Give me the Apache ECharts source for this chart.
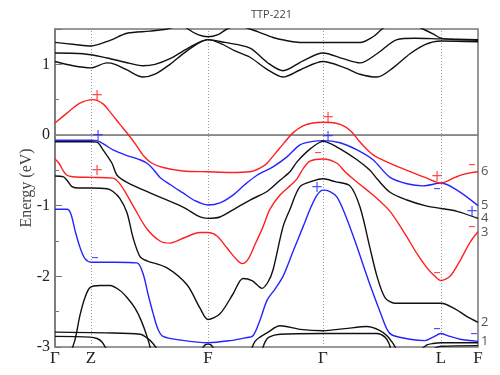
<!DOCTYPE html>
<html>
<head>
<meta charset="utf-8">
<script src="https://cdn.jsdelivr.net/npm/echarts@6/dist/echarts.min.js"></script>
<style>
  html, body { margin: 0; padding: 0; background: #fff; }
  #main { width: 500px; height: 375px; }
</style>
</head>
<body>
<div id="main"></div>
<script>
// k-path positions of the high-symmetry points and their labels
const kPoints = [0, 36, 153, 268, 386, 423]
const kLabels = ['Γ', 'Z', 'F', 'Γ', 'L', 'F']

// conduction bands [k, E]
const cond1 = [[0,1.04],[18,0.98],[36,0.95],[52,1.02],[60,1.0],[72,0.92],[88,0.82],[100,0.86],[115,1.0],[130,1.17],[145,1.31],[153,1.35],[165,1.30],[180,1.19],[195,1.10],[212,0.93],[228,0.82],[245,0.92],[268,1.04],[290,0.95],[305,0.86],[322,0.82],[338,0.95],[355,1.15],[370,1.28],[386,1.33],[423,1.32]]
const cond2 = [[0,1.16],[28,1.15],[52,1.09],[70,1.03],[88,0.98],[100,1.0],[115,1.08],[132,1.22],[153,1.35],[170,1.31],[195,1.23],[212,1.03],[228,0.91],[248,1.05],[268,1.16],[288,1.08],[305,1.02],[322,1.15],[342,1.35],[360,1.37],[386,1.36],[423,1.35]]
const cond3 = [[0,1.31],[20,1.28],[36,1.26],[55,1.34],[72,1.44],[95,1.47],[112,1.50],[125,1.56]]
const cond4 = [[120,1.65],[133,1.50],[143,1.42],[153,1.39],[163,1.42],[172,1.50],[182,1.55],[195,1.50],[205,1.45],[218,1.38],[230,1.34],[245,1.31],[268,1.31],[305,1.31],[318,1.39],[327,1.50],[335,1.58]]
const cond5 = [[350,1.62],[368,1.50],[378,1.43],[386,1.37],[400,1.35],[423,1.34]]

// valence bands, numbered as on the right edge
const band6 = [[0,0.17],[12,0.31],[25,0.45],[38,0.50],[48,0.44],[56,0.31],[65,0.15],[73,0.01],[81,-0.14],[89,-0.30],[97,-0.40],[108,-0.46],[128,-0.51],[153,-0.52],[175,-0.53],[195,-0.52],[205,-0.47],[212,-0.40],[225,-0.18],[238,0.03],[248,0.13],[258,0.17],[268,0.18],[280,0.17],[290,0.12],[297,0.04],[305,-0.10],[313,-0.22],[320,-0.30],[335,-0.40],[352,-0.50],[370,-0.60],[386,-0.68],[400,-0.60],[410,-0.55],[423,-0.52]]
const band5 = [[0,-0.075],[36,-0.075],[42,-0.08],[50,-0.14],[58,-0.21],[70,-0.28],[85,-0.35],[92,-0.40],[98,-0.48],[105,-0.60],[115,-0.70],[128,-0.82],[140,-0.93],[153,-0.99],[165,-0.96],[178,-0.85],[190,-0.70],[202,-0.57],[218,-0.45],[232,-0.31],[245,-0.14],[258,-0.09],[268,-0.08],[285,-0.11],[302,-0.21],[318,-0.35],[335,-0.60],[352,-0.69],[368,-0.72],[386,-0.68],[402,-0.78],[423,-1.0]]
const band4 = [[0,-0.095],[36,-0.095],[42,-0.10],[48,-0.21],[57,-0.40],[62,-0.57],[72,-0.67],[95,-0.82],[128,-1.02],[145,-1.16],[153,-1.18],[165,-1.16],[178,-1.06],[195,-0.92],[212,-0.80],[225,-0.64],[235,-0.52],[242,-0.38],[255,-0.20],[268,-0.09],[282,-0.17],[302,-0.35],[315,-0.50],[322,-0.62],[335,-0.81],[352,-0.92],[370,-1.00],[386,-1.04],[402,-1.08],[423,-1.18]]
const band3 = [[0,-0.34],[4,-0.40],[8,-0.50],[12,-0.57],[18,-0.59],[36,-0.60],[58,-0.61],[63,-0.66],[70,-0.80],[80,-1.05],[92,-1.33],[105,-1.50],[115,-1.53],[130,-1.45],[145,-1.38],[153,-1.38],[162,-1.43],[172,-1.60],[182,-1.77],[187,-1.82],[193,-1.76],[200,-1.55],[208,-1.30],[215,-1.05],[225,-0.85],[235,-0.72],[242,-0.62],[248,-0.48],[255,-0.37],[268,-0.34],[282,-0.40],[290,-0.52],[298,-0.62],[305,-0.70],[318,-0.85],[335,-1.08],[350,-1.40],[362,-1.68],[372,-1.88],[380,-2.0],[386,-2.06],[395,-2.0],[405,-1.78],[415,-1.52],[423,-1.37]]
const band2 = [[0,-0.58],[8,-0.59],[12,-0.64],[17,-0.73],[24,-0.75],[36,-0.75],[52,-0.76],[58,-0.80],[65,-0.90],[72,-1.10],[78,-1.45],[85,-1.72],[92,-1.78],[112,-1.88],[132,-2.12],[145,-2.45],[153,-2.61],[165,-2.53],[178,-2.25],[188,-2.03],[197,-2.06],[207,-2.17],[213,-2.08],[218,-1.91],[228,-1.30],[235,-1.05],[245,-0.73],[258,-0.65],[268,-0.62],[280,-0.66],[295,-0.72],[305,-1.02],[315,-1.60],[322,-2.0],[330,-2.30],[340,-2.38],[360,-2.38],[386,-2.38],[400,-2.46],[412,-2.57],[423,-2.65]]
const band1 = [[0,-1.05],[12,-1.05],[16,-1.12],[20,-1.35],[25,-1.59],[30,-1.75],[36,-1.80],[60,-1.80],[82,-1.81],[88,-1.96],[93,-2.25],[98,-2.52],[103,-2.75],[108,-2.85],[125,-2.90],[153,-2.94],[175,-2.91],[190,-2.87],[198,-2.84],[205,-2.62],[212,-2.34],[220,-2.18],[228,-2.0],[238,-1.65],[248,-1.30],[256,-1.02],[262,-0.85],[268,-0.78],[275,-0.80],[282,-0.88],[290,-1.12],[300,-1.50],[315,-2.12],[325,-2.5],[332,-2.75],[337,-2.83],[355,-2.89],[370,-2.91],[378,-2.86],[386,-2.81],[395,-2.85],[405,-2.89],[423,-2.92]]

// deep black bands near the bottom edge
const deepA = [[15,-3.1],[20,-2.9],[25,-2.55],[30,-2.3],[35,-2.16],[45,-2.13],[55,-2.13],[65,-2.2],[72,-2.30],[80,-2.45],[86,-2.62],[92,-2.85],[96,-3.05]]
const deepB = [[0,-2.79],[50,-2.80],[85,-2.82],[92,-2.87],[98,-2.95],[103,-3.05]]
const deepC = [[0,-2.85],[35,-2.86],[42,-2.88],[47,-2.93],[52,-3.05]]
const deepD = [[146,-3.05],[150,-2.97],[153,-2.96],[156,-2.97],[160,-3.05]]
const deepE = [[196,-3.05],[200,-2.92],[205,-2.86],[212,-2.80],[225,-2.70],[245,-2.75],[268,-2.77],[290,-2.74],[312,-2.71],[324,-2.76],[332,-2.84],[338,-2.95],[342,-3.05]]
const deepF = [[207,-3.05],[210,-2.93],[214,-2.86],[225,-2.82],[268,-2.81],[322,-2.81],[330,-2.86],[334,-2.95],[336,-3.05]]
const deepG = [[365,-3.05],[372,-2.97],[378,-2.95],[386,-2.94],[423,-2.94]]
const deepH = [[375,-3.05],[386,-2.99],[423,-2.98]]

// parity marks [k, E]
const plusRed = [[42,0.55],[42,-0.51],[273,0.24],[382,-0.60]]
const minusRed = [[263,-0.26],[417,-0.43],[417,-1.31],[382,-1.96]]
const plusBlue = [[43,-0.02],[273,-0.03],[262,-0.75],[417,-1.09]]
const minusBlue = [[40,-1.74],[382,-0.77],[382,-2.75],[419,-2.82]]

const RED = '#ff1f1f'
const BLUE = '#2424ff'
const BLACK = '#111'

function band(data, color, tag) {
  const s = {
    type: 'line', data: data, smooth: 0.3, showSymbol: false, symbol: 'none',
    lineStyle: { color: color, width: 1.4 }, silent: true, z: 3
  }
  if (tag) {
    s.endLabel = { show: true, formatter: tag, color: '#555', fontSize: 13,
      fontFamily: 'Open Sans', distance: 3 }
  }
  return s
}

function marks(data, color, text) {
  return {
    type: 'scatter', data: data, symbolSize: 1, itemStyle: { color: 'transparent' },
    z: 4, silent: true,
    label: { show: true, position: 'inside', formatter: text, color: color,
      fontSize: 15, fontFamily: 'DejaVu Sans' }
  }
}

const chart = echarts.init(document.getElementById('main'))

const option = {
  animation: false,
  title: {
    text: 'TTP-221', left: 246, top: 4,
    textStyle: { fontSize: 11, fontWeight: 'normal', color: '#444', fontFamily: 'Open Sans' }
  },
  grid: { left: 55, right: 22, top: 29, bottom: 28, show: true, borderColor: '#777', borderWidth: 1.5 },
  xAxis: {
    type: 'value', min: 0, max: 423,
    axisLine: { lineStyle: { color: '#777', width: 1.5 } },
    axisTick: { show: false },
    splitLine: { show: false },
    axisLabel: {
      customValues: kPoints, margin: 3,
      formatter: v => kLabels[kPoints.indexOf(v)],
      color: '#222', fontSize: 17, fontFamily: 'Liberation Serif'
    }
  },
  yAxis: {
    type: 'value', min: -3, max: 1.5, interval: 1,
    name: 'Energy (eV)', nameLocation: 'middle', nameGap: 20, nameMoveOverlap: false,
    nameTextStyle: { fontSize: 16, color: '#444', fontFamily: 'Liberation Serif' },
    axisLine: { lineStyle: { color: '#777', width: 1.5 } },
    axisTick: { inside: true, length: 7, lineStyle: { color: '#777' } },
    minorTick: { show: true, splitNumber: 2, length: 4, lineStyle: { color: '#777' } },
    splitLine: { show: false },
    axisLabel: {
      showMaxLabel: false, margin: 5,
      color: '#222', fontSize: 16, fontFamily: 'Liberation Serif'
    }
  },
  series: [
    Object.assign(band(cond1, BLACK), {
      markLine: {
        silent: true, symbol: ['none', 'none'], label: { show: false }, z: 1,
        data: [
          { yAxis: 0, lineStyle: { color: '#888', type: 'solid', width: 1 } },
          ...kPoints.slice(1, 5).map(k => ({ xAxis: k, lineStyle: { color: '#999', type: [1, 2], width: 1 } }))
        ]
      }
    }),
    band(cond2, BLACK), band(cond3, BLACK), band(cond4, BLACK), band(cond5, BLACK),
    band(deepA, BLACK), band(deepB, BLACK), band(deepC, BLACK), band(deepD, BLACK),
    band(deepE, BLACK), band(deepF, BLACK), band(deepG, BLACK), band(deepH, BLACK),
    band(band1, BLUE, '1'), band(band2, BLACK, '2'), band(band3, RED, '3'),
    band(band5, BLUE, '5'), band(band4, BLACK, '4'), band(band6, RED, '6'),
    marks(plusRed, RED, '+'), marks(minusRed, RED, '–'),
    marks(plusBlue, BLUE, '+'), marks(minusBlue, BLUE, '–')
  ]
}

chart.setOption(option)
</script>
</body>
</html>
